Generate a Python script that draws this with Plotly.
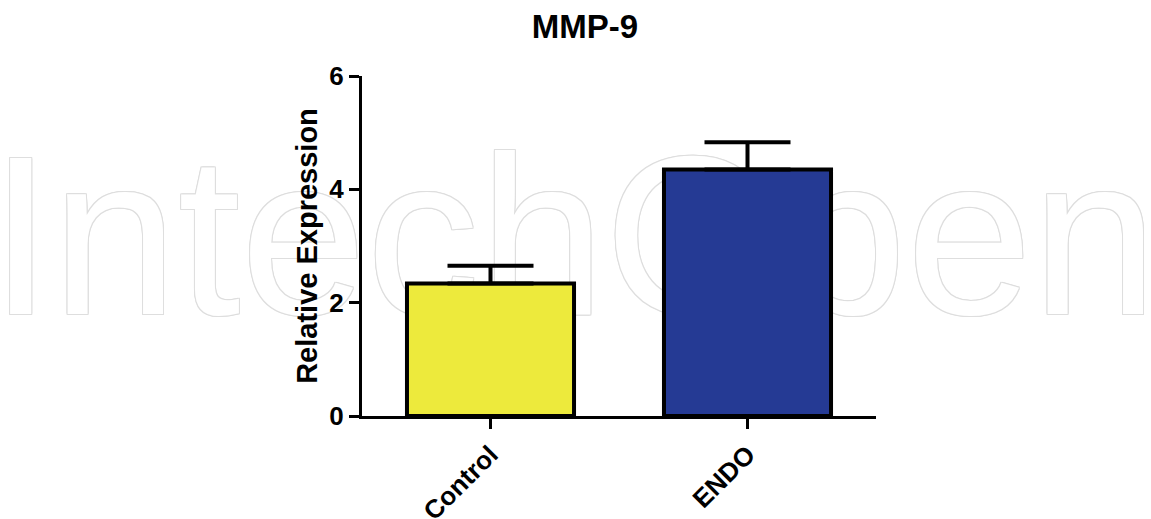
import plotly.graph_objects as go

# ---- data ----
categories = ["Control", "ENDO"]
values = [2.34, 4.35]
errors_upper = [0.31, 0.48]
bar_colors = ["#EDEA3C", "#253A94"]
y_ticks = [0, 2, 4, 6]
y_tick_labels = ["0", "2", "4", "6"]
title_text = "MMP-9"
y_title = "Relative Expression"
watermark = "IntechOpen"

W, H = 1151, 519
FONT = "Liberation Sans, Arial, sans-serif"

fig = go.Figure()

# watermark on a full-page background subplot
wm = "#dedede"
shadow = ", ".join(f"{dx}px {dy}px 0 {wm}" for dx, dy in
                   [(1, 0), (-1, 0), (0, 1), (0, -1), (1, 1), (-1, -1), (1, -1), (-1, 1)])
fig.add_trace(go.Scatter(
    x=[W / 2 - 2], y=[257], mode="text", text=[watermark],
    textposition="middle center",
    textfont=dict(family=FONT, size=226, color="white", shadow=shadow),
    hoverinfo="skip", showlegend=False, xaxis="x", yaxis="y",
))

# bars
fig.add_trace(go.Bar(
    x=categories, y=values, width=0.65,
    marker=dict(color=bar_colors, line=dict(color="black", width=4)),
    error_y=dict(type="data", array=errors_upper, arrayminus=[0, 0],
                 symmetric=False, color="black", thickness=4, width=43),
    showlegend=False, xaxis="x2", yaxis="y2",
))

x0, x1 = 362 / W, 876 / W
y0, y1 = (H - 416) / H, (H - 76) / H

fig.update_layout(
    width=W, height=H,
    margin=dict(l=0, r=0, t=0, b=0, autoexpand=False),
    paper_bgcolor="white", plot_bgcolor="rgba(0,0,0,0)",
    font=dict(family=FONT, color="black"),
    title=dict(text=f"<b>{title_text}</b>", x=585 / W, xref="paper",
               y=1 - 26 / H, yref="container", yanchor="middle", xanchor="center",
               automargin=False,
               font=dict(size=33, family=FONT, color="black")),
    xaxis=dict(domain=[0, 1], range=[0, W], visible=False, fixedrange=True,
               automargin=False),
    yaxis=dict(domain=[0, 1], range=[H, 0], visible=False, fixedrange=True,
               automargin=False),
    xaxis2=dict(domain=[x0, x1], anchor="y2", type="category", range=[-0.5, 1.5],
                automargin=False,
                showline=True, linecolor="black", linewidth=3, mirror=False,
                ticks="outside", ticklen=10, tickwidth=3, tickcolor="black",
                tickangle=-45, showgrid=False, zeroline=False,
                tickfont=dict(size=26, family=FONT, color="black", weight="bold")),
    yaxis2=dict(domain=[y0, y1], anchor="x2", range=[0, 6], automargin=False,
                tickvals=y_ticks, ticktext=y_tick_labels,
                showline=True, linecolor="black", linewidth=3,
                ticks="outside", ticklen=10, tickwidth=3, tickcolor="black",
                showgrid=False, zeroline=False,
                tickfont=dict(size=26, family=FONT, color="black", weight="bold"),
                title=dict(text=f"<b>{y_title}</b>", standoff=4,
                           font=dict(size=29, family=FONT, color="black"))),
)

fig.write_html("out.html", config={"displayModeBar": False},
               post_script="document.body.style.margin='0';document.body.style.overflow='hidden';")
